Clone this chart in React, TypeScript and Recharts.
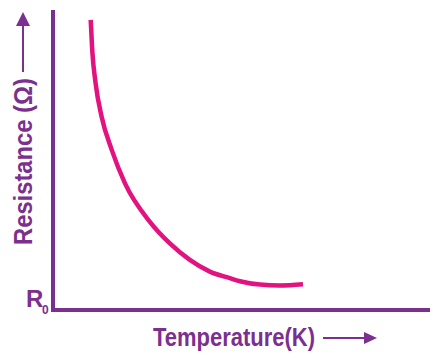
import { LineChart, Line, XAxis, YAxis, Label } from "recharts";

// temperature (arbitrary units) vs resistance (arbitrary units)
const temperature = [10, 10.4, 11.3, 12.9, 15.6, 19.1, 25.7, 31, 36.3, 41.6, 46.9, 49.6, 54.9, 60.2, 66.3];
const resistance = [96.7, 86.7, 75.6, 64.4, 53.3, 42.2, 29.4, 22.2, 16.7, 12.8, 10.6, 9.6, 8.5, 8.2, 8.6];

const xLabel = "Temperature(K)";
const yLabel = "Resistance (Ω)";
const originLabel = "R";
const originSub = "0";

const data = temperature.map((t, i) => ({ t, r: resistance[i] }));

const PURPLE = "#7b2f8f";
const PINK = "#e2127f";
const FONT = "'Liberation Sans', Arial, sans-serif";

const XTitle = () => (
  <g>
    <text
      x={153}
      y={346}
      fill={PURPLE}
      fontFamily={FONT}
      fontWeight="bold"
      fontSize={25}
      textLength={162}
      lengthAdjust="spacingAndGlyphs"
    >
      {xLabel}
    </text>
    <line x1={323} y1={338} x2={366} y2={338} stroke={PURPLE} strokeWidth={2} />
    <polygon points="364,332 377,338 364,344" fill={PURPLE} />
  </g>
);

const YTitle = () => (
  <g>
    <text
      transform="translate(32,245) rotate(-90)"
      fill={PURPLE}
      fontFamily={FONT}
      fontWeight="bold"
      fontSize={25}
      textLength={167}
      lengthAdjust="spacingAndGlyphs"
    >
      {yLabel}
    </text>
    <line x1={23} y1={72} x2={23} y2={24} stroke={PURPLE} strokeWidth={2} />
    <polygon points="16,26 23,12 30,26" fill={PURPLE} />
    <text x={26} y={307} fill={PURPLE} fontFamily={FONT} fontWeight="bold" fontSize={24}>
      {originLabel}
    </text>
    <text x={42} y={314} fill={PURPLE} fontFamily={FONT} fontWeight="bold" fontSize={12}>
      {originSub}
    </text>
  </g>
);

export default function App() {
  return (
    <div style={{ position: "absolute", left: 0, top: 0, width: 430, height: 353, background: "#fff" }}>
      <LineChart width={430} height={353} data={data} margin={{ top: 10, right: 0, bottom: 42, left: 52 }}>
        <XAxis
          dataKey="t"
          type="number"
          domain={[0, 100]}
          allowDataOverflow
          tick={false}
          tickLine={false}
          height={1}
          axisLine={{ stroke: PURPLE, strokeWidth: 4, strokeLinecap: "square" }}
        >
          <Label content={XTitle} />
        </XAxis>
        <YAxis
          type="number"
          domain={[0, 100]}
          allowDataOverflow
          tick={false}
          tickLine={false}
          width={1}
          axisLine={{ stroke: PURPLE, strokeWidth: 4 }}
        >
          <Label content={YTitle} />
        </YAxis>
        <Line
          type="monotone"
          dataKey="r"
          stroke={PINK}
          strokeWidth={4.5}
          dot={false}
          activeDot={false}
          isAnimationActive={false}
        />
      </LineChart>
    </div>
  );
}
